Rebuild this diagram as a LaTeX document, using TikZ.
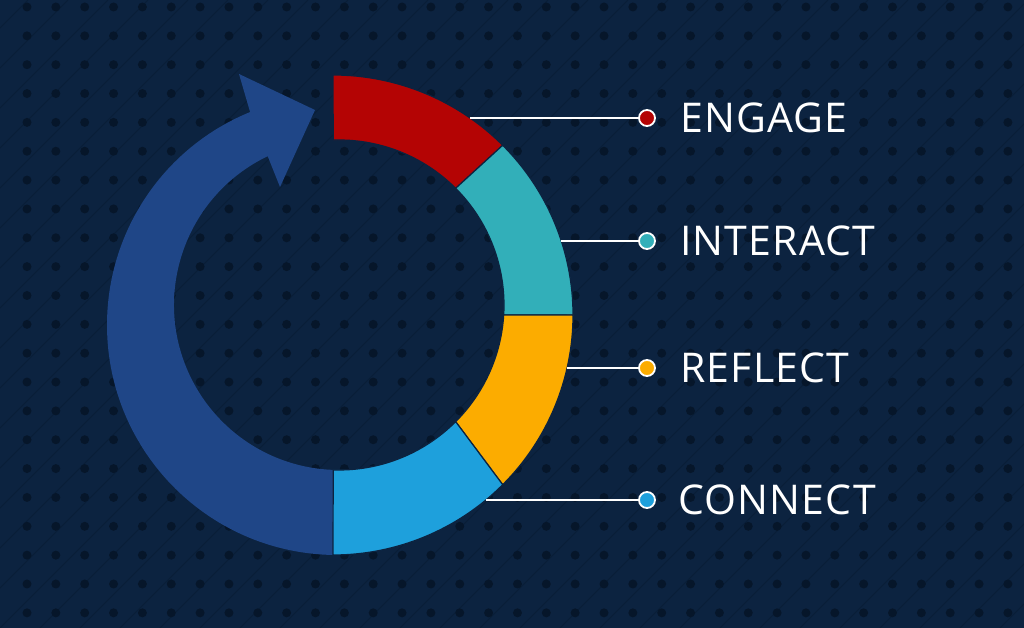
\documentclass[tikz,border=0pt]{standalone}
\usepackage{fontspec}
\setmainfont[LetterSpace=3]{Open Sans}
\definecolor{navybg}{RGB}{12, 35, 64}
\definecolor{navydot}{RGB}{6, 22, 42}
\definecolor{navystripe}{RGB}{9, 30, 55}
\definecolor{ringred}{RGB}{180, 4, 4}
\definecolor{ringteal}{RGB}{50, 175, 185}
\definecolor{ringyellow}{RGB}{252, 172, 0}
\definecolor{ringsky}{RGB}{30, 160, 220}
\definecolor{ringblue}{RGB}{31, 70, 135}
\usepackage{tikz}
\usetikzlibrary{calc}

\begin{document}
\begin{tikzpicture}[x=1pt, y=1pt,
  seg/.style={draw=navybg, line width=1.2pt},
  lead/.style={draw=white, line width=1.6pt},
  pin/.style={circle, draw=white, line width=1.8pt, minimum size=16pt, inner sep=0pt},
  tag/.style={text=white, anchor=west, inner sep=0pt, font=\fontsize{41}{46}\selectfont}]

  % Background with stripes and dots
  \fill[navybg] (0,0) rectangle (1024,628);
  \begin{scope}
    \clip (0,0) rectangle (1024,628);
    \foreach \k in {-17,...,26}
      \draw[navystripe, line width=0.9pt] (\k*40,0) -- ++(628,628);
    \foreach \i in {0,...,35}
      \foreach \j in {0,...,21}
        \fill[navydot] (27+\i*28.85, 621-\j*28.85) circle (4.5);
  \end{scope}

  % Centres of the ring edges
  \coordinate (oc) at (333,313);
  \coordinate (ic) at (339,323);
  \coordinate (dc) at (337,303);

  % Cycle arrow
  \fill[ringblue] ($(dc)+(269:230)$) arc[start angle=269, end angle=112.2, radius=230]
    -- (239,554) -- (315,518) -- (280,441)
    -- ($(ic)+(115.6:165)$) arc[start angle=115.6, end angle=268, radius=165] -- cycle;

  % Ring segments
  \filldraw[seg, fill=ringred] ($(oc)+(90:240)$) arc[start angle=90, end angle=45, radius=240]
    -- ($(ic)+(45:165)$) arc[start angle=45, end angle=92, radius=165] -- cycle;
  \filldraw[seg, fill=ringteal] ($(oc)+(45:240)$) arc[start angle=45, end angle=0, radius=240]
    -- ($(ic)+(-3.5:165)$) arc[start angle=-3.5, end angle=45, radius=165] -- cycle;
  \filldraw[seg, fill=ringyellow] ($(oc)+(0:240)$) arc[start angle=0, end angle=-45, radius=240]
    -- ($(ic)+(-45:165)$) arc[start angle=-45, end angle=-3.5, radius=165] -- cycle;
  \filldraw[seg, fill=ringsky] ($(oc)+(-45:240)$) arc[start angle=-45, end angle=-90, radius=240]
    -- ($(ic)+(-92:165)$) arc[start angle=-92, end angle=-45, radius=165] -- cycle;

  % Edge points for the leaders
  \coordinate (e1) at ($(oc)+(55.17:240)$);
  \coordinate (e2) at ($(oc)+(17.96:240)$);
  \coordinate (e3) at ($(oc)+(-12.76:240)$);
  \coordinate (e4) at ($(oc)+(-50.43:240)$);

  % Pins and labels
  \node[pin, fill=ringred] (p1) at (647,510) {};
  \node[pin, fill=ringteal] (p2) at (647,387) {};
  \node[pin, fill=ringyellow] (p3) at (647,260) {};
  \node[pin, fill=ringsky] (p4) at (647,128) {};

  \draw[lead] (e1 |- p1) -- (p1.west);
  \draw[lead] (e2 |- p2) -- (p2.west);
  \draw[lead] (e3 |- p3) -- (p3.west);
  \draw[lead] (e4 |- p4) -- (p4.west);

  \node[tag] (engage) at (680,510) {ENGAGE};
  \node[tag] (interact) at (680,387) {INTERACT};
  \node[tag] (reflect) at (680,260) {REFLECT};
  \node[tag] (connect) at (678,128) {CONNECT};
\end{tikzpicture}
\end{document}
